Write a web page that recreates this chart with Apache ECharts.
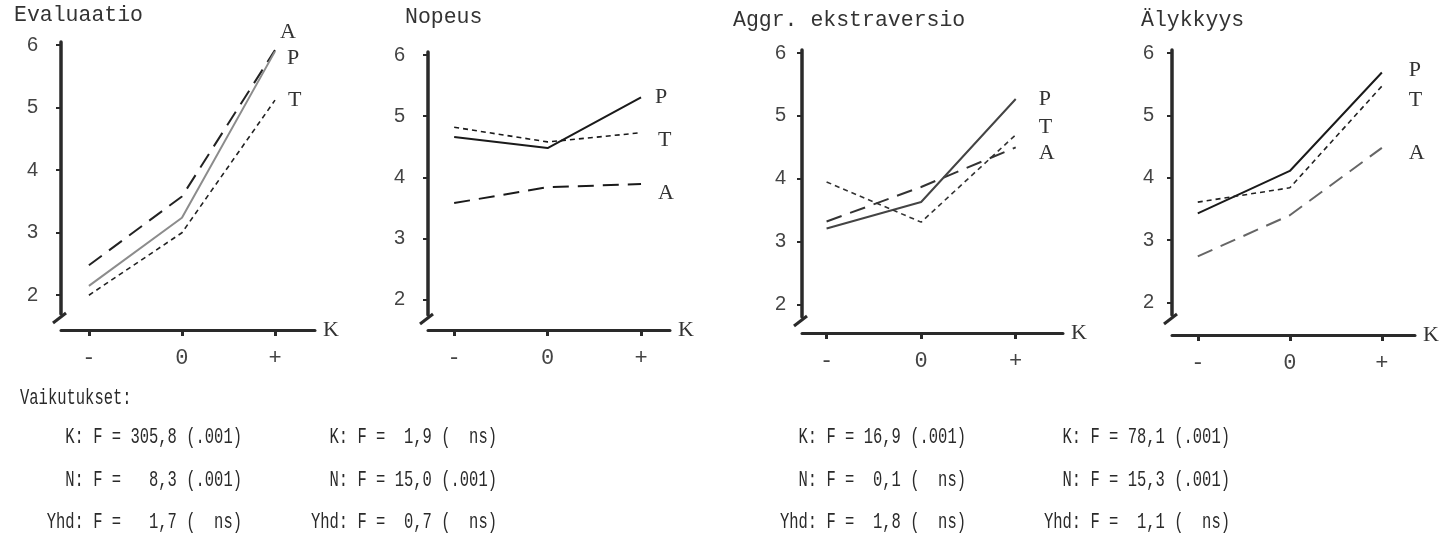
<!DOCTYPE html>
<html><head><meta charset="utf-8">
<script src="https://cdn.jsdelivr.net/npm/echarts@6/dist/echarts.min.js"></script>
<style>html,body{margin:0;padding:0;background:#fff}#c{width:1450px;height:538px}</style>
</head><body><div id="c"></div>
<script>
// ---------- data ----------
const titles = ['Evaluaatio', 'Nopeus', 'Aggr. ekstraversio', 'Älykkyys'];
const kLevels = ['-', '0', '+'];
const kPositions = [0, 1, 2];
const yTicks = [2, 3, 4, 5, 6];
const seriesNames = ['A', 'P', 'T'];
// mean values at K = -, 0, +
const evalA = [2.48, 3.58, 5.92];
const evalP = [2.15, 3.24, 5.90];
const evalT = [2.00, 3.00, 5.12];
const nopA = [3.58, 3.84, 3.89];
const nopP = [4.66, 4.48, 5.31];
const nopT = [4.82, 4.58, 4.73];
const aggA = [3.32, 3.87, 4.50];
const aggP = [3.21, 3.63, 5.27];
const aggT = [3.95, 3.31, 4.70];
const alyA = [2.74, 3.40, 4.48];
const alyP = [3.43, 4.11, 5.69];
const alyT = [3.61, 3.84, 5.47];
const effectsHeading = 'Vaikutukset:';
const effectNames = ['K', 'N', 'Yhd'];
const fK = ['305,8', '1,9', '16,9', '78,1'];
const pK = ['.001', 'ns', '.001', '.001'];
const fN = ['8,3', '15,0', '0,1', '15,3'];
const pN = ['.001', '.001', 'ns', '.001'];
const fY = ['1,7', '0,7', '1,8', '1,1'];
const pY = ['ns', 'ns', 'ns', 'ns'];

const panelData = [
  [evalA, evalP, evalT],
  [nopA, nopP, nopT],
  [aggA, aggP, aggT],
  [alyA, alyP, alyT]
];

// ---------- layout / style ----------
const layout = [
  {left: 61,   top: 42, width: 254, height: 272, ymin: 1.70, ymax: 6.05, xmin: -0.30, xmax: 2.43, xoff: 16, ym: 23, title: [14, 15],  textRight: 242},
  {left: 428,  top: 52, width: 242, height: 263, ymin: 1.75, ymax: 6.05, xmin: -0.28, xmax: 2.31, xoff: 15, ym: 23, title: [405, 17], textRight: 497},
  {left: 802,  top: 50, width: 261, height: 267, ymin: 1.80, ymax: 6.05, xmin: -0.26, xmax: 2.50, xoff: 16, ym: 16, title: [733, 20], textRight: 966},
  {left: 1172, top: 50, width: 243, height: 265, ymin: 1.80, ymax: 6.05, xmin: -0.28, xmax: 2.36, xoff: 20, ym: 18, title: [1141, 20], textRight: 1230}
];
const colors = [
  ['#222', '#8c8c8c', '#222'],
  ['#1a1a1a', '#1a1a1a', '#1a1a1a'],
  ['#333', '#444', '#333'],
  ['#666', '#1a1a1a', '#222']
];
const dashes = {A: [16, 9], P: 'solid', T: [5, 4]};
const widths = {A: 2, P: 2, T: 1.6};
const labelOffsets = [
  [[-3, -18], [4, 7], [5, 0]],
  [[9, 9], [6, 0], [9, 7]],
  [[15, 6], [15, 0], [15, -8]],
  [[19, 5], [19, -2], [19, 14]]
];
const mono = 'Liberation Mono';
const serif = 'Liberation Serif';
const axisColor = '#2a2a2a';
const textColor = '#2a2a2a';

const grids = [], xAxes = [], yAxes = [], series = [], graphics = [];
layout.forEach((L, i) => {
  grids.push({left: L.left, top: L.top, width: L.width, height: L.height});
  xAxes.push({
    type: 'value', gridIndex: i, min: L.xmin, max: L.xmax, offset: L.xoff,
    axisLine: {show: true, onZero: false, lineStyle: {color: axisColor, width: 3}},
    axisTick: {show: true, customValues: kPositions, length: 6, lineStyle: {color: axisColor, width: 3}},
    axisLabel: {customValues: kPositions, formatter: v => kLevels[Math.round(v)], margin: 17,
      fontFamily: mono, fontSize: 22, color: '#444'},
    splitLine: {show: false},
    name: 'K', nameLocation: 'end', nameGap: 8,
    nameTextStyle: {fontFamily: serif, fontSize: 22, color: '#333', verticalAlign: 'middle'}
  });
  yAxes.push({
    type: 'value', gridIndex: i, min: L.ymin, max: L.ymax,
    axisLine: {show: true, onZero: false, lineStyle: {color: axisColor, width: 3.5}},
    axisTick: {show: true, customValues: yTicks, length: 5, lineStyle: {color: axisColor, width: 2}},
    axisLabel: {customValues: yTicks, margin: L.ym, fontFamily: 'Liberation Sans', fontSize: 20, color: '#444'},
    splitLine: {show: false}
  });
  panelData[i].forEach((vals, s) => {
    const nm = seriesNames[s];
    series.push({
      type: 'line', name: nm, xAxisIndex: i, yAxisIndex: i, symbol: 'none', silent: true,
      data: vals.map((v, k) => [kPositions[k], v]),
      lineStyle: {color: colors[i][s], width: widths[nm], type: dashes[nm]},
      endLabel: {show: true, formatter: '{a}', offset: labelOffsets[i][s],
        fontFamily: serif, fontSize: 22, color: '#333'}
    });
  });
  // axis break mark
  const by = L.top + L.height;
  graphics.push({type: 'line', shape: {x1: L.left + 5, y1: by - 1, x2: L.left - 8, y2: by + 9},
    style: {stroke: axisColor, lineWidth: 3}});
  // title
  graphics.push({type: 'text', x: L.title[0], y: L.title[1],
    style: {text: titles[i], fontFamily: mono, fontSize: 21.5, fill: '#333', align: 'left', verticalAlign: 'middle'}});
  // effects text
  const fCols = [fK[i], fN[i], fY[i]];
  const pCols = [pK[i], pN[i], pY[i]];
  const fw = Math.max(...fCols.map(s => s.length));
  const rowsY = [437, 480, 522];
  effectNames.forEach((e, r) => {
    const txt = e + ': F = ' + fCols[r].padStart(fw, ' ') + ' (' + pCols[r].padStart(4, ' ') + ')';
    graphics.push({type: 'text', x: L.textRight, y: rowsY[r], scaleY: 1.45,
      style: {text: txt, fontFamily: mono, fontSize: 15.5, fill: textColor, align: 'right', verticalAlign: 'middle'}});
  });
});
graphics.push({type: 'text', x: 20, y: 398, scaleY: 1.45,
  style: {text: effectsHeading, fontFamily: mono, fontSize: 15.5, fill: textColor, align: 'left', verticalAlign: 'middle'}});

const chart = echarts.init(document.getElementById('c'), null, {renderer: 'canvas'});
chart.setOption({
  backgroundColor: '#fff',
  animation: false,
  grid: grids, xAxis: xAxes, yAxis: yAxes, series: series,
  graphic: graphics
});
</script></body></html>
